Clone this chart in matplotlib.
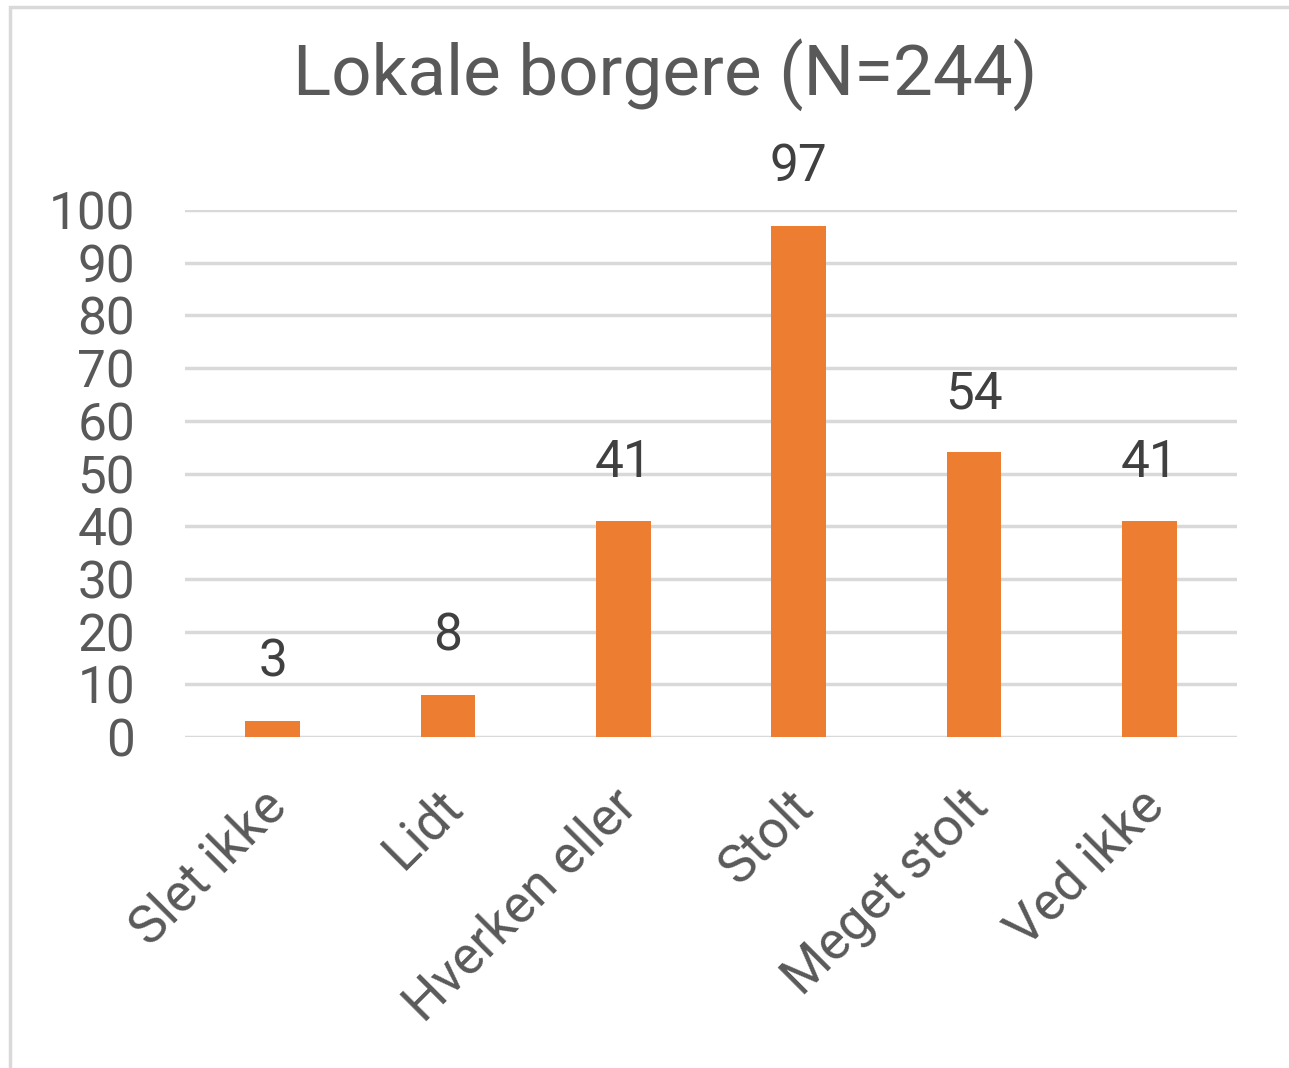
import matplotlib.pyplot as plt
import matplotlib.transforms as mtransforms
from matplotlib.patches import Rectangle

# DATA
categories = ['Slet ikke', 'Lidt', 'Hverken eller', 'Stolt', 'Meget stolt', 'Ved ikke']
counts = [3, 8, 41, 97, 54, 41]
yticks = list(range(0, 101, 10))

plt.rcParams['font.family'] = ['Roboto', 'DejaVu Sans']
text_color = '#595959'

fig = plt.figure(figsize=(12.89, 10.68), dpi=100)

# outer chart border (cropped on right and bottom)
fig.patches.append(Rectangle((10 / 1289, -0.1), 1.2, 1 - 7 / 1068 + 0.1,
                             transform=fig.transFigure, fill=False,
                             edgecolor='#D9D9D9', linewidth=2.5))

ax = fig.add_axes([185 / 1289, 1 - 737 / 1068, (1237 - 185) / 1289, (737 - 210) / 1068])
x = range(len(categories))
bars = ax.bar(x, counts, width=0.31, color='#ED7D31', zorder=3)

ax.set_xlim(-0.5, len(categories) - 0.5)
ax.set_ylim(0, 100)
ax.set_yticks(yticks)
ax.set_yticklabels([str(t) for t in yticks], fontsize=37, color=text_color)
ax.set_xticks(list(x))
ax.set_xticklabels(categories, rotation=45, ha='right', rotation_mode='anchor',
                   fontsize=38, color=text_color)
ax.tick_params(axis='both', length=0)
ax.tick_params(axis='y', pad=36)
ax.tick_params(axis='x', pad=31)
shift = mtransforms.ScaledTranslation(-12 / 100, 0, fig.dpi_scale_trans)
for lbl in ax.get_xticklabels():
    lbl.set_transform(lbl.get_transform() + shift)

ax.grid(axis='y', color='#D9D9D9', linewidth=2.5, zorder=0)
for s in ax.spines.values():
    s.set_visible(False)

for b, v in zip(bars, counts):
    ax.annotate(str(v), (b.get_x() + b.get_width() / 2, v), xytext=(0, 24),
                textcoords='offset points', ha='center', va='bottom',
                fontsize=37, color='#404040')

fig.text(0.516, 1 - 75 / 1068, 'Lokale borgere (N=244)', ha='center', va='center',
         fontsize=51, color=text_color)

fig.savefig('out.png', dpi=100)
